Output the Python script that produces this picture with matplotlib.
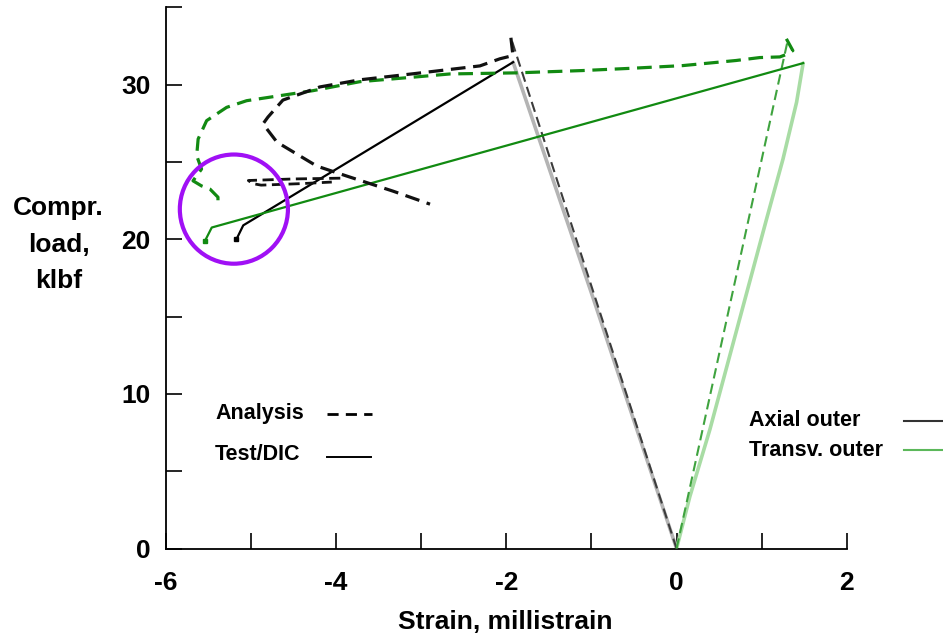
import matplotlib
matplotlib.use("Agg")
import matplotlib.pyplot as plt
from matplotlib.lines import Line2D
from matplotlib.patches import Ellipse

plt.rcParams['font.family'] = ['Liberation Sans', 'DejaVu Sans']

# ---- data (strain in millistrain, load in klbf) ----
# Axial outer, test (gauge) up to peak load
axial_test_x = [0.0, -0.98, -1.92]
axial_test_y = [0.0, 16.2, 31.45]
# Axial outer, test/DIC after peak
axial_dic_x = [-1.92, -5.09, -5.17]
axial_dic_y = [31.45, 20.90, 20.00]
# Axial outer, analysis: linear branch
axial_lin_x = [0.0, -1.946]
axial_lin_y = [0.0, 33.03]
# Axial outer, analysis: post-buckling branch
axial_post_x = [-1.946, -1.922, -2.075, -2.31, -3.097, -3.72, -4.19, -4.624,
                -4.80, -4.858, -4.694, -4.225, -3.87, -3.33, -2.896]
axial_post_y = [33.03, 31.88, 31.67, 31.21, 30.70, 30.31, 29.85, 29.00,
                27.90, 27.46, 26.28, 24.73, 24.08, 23.11, 22.27]
# Axial outer, analysis: unloading loop
axial_loop_x = [-3.95, -4.50, -5.03, -4.98, -4.88, -4.40, -4.05]
axial_loop_y = [23.95, 23.90, 23.80, 23.60, 23.50, 23.60, 23.70]

# Transverse outer, test (gauge) up to peak load
trans_test_x = [0.0, 0.156, 0.391, 1.057, 1.25, 1.41, 1.487]
trans_test_y = [0.0, 3.36, 7.69, 21.30, 25.18, 28.86, 31.39]
# Transverse outer, test/DIC after peak
trans_dic_x = [1.487, -5.46, -5.54]
trans_dic_y = [31.39, 20.76, 19.89]
# Transverse outer, analysis: linear branch
trans_lin_x = [0.0, 1.31]
trans_lin_y = [0.0, 32.96]
# Transverse outer, analysis: post-buckling branch
trans_post_x = [1.29, 1.366, 1.29, 1.213, 0.979, 0.70, 0.074, -0.513, -1.10,
                -1.879, -2.66, -3.097, -3.72, -4.27, -5.05, -5.285, -5.52,
                -5.62, -5.637, -5.58, -5.68, -5.58, -5.48, -5.387, -5.387]
trans_post_y = [32.96, 32.20, 31.95, 31.79, 31.75, 31.56, 31.23, 31.06, 30.91,
                30.76, 30.69, 30.48, 30.19, 29.61, 28.96, 28.53, 27.67,
                26.48, 25.40, 24.54, 23.78, 23.45, 23.24, 22.72, 22.27]

x_ticks = [-6, -4, -2, 0, 2]
x_minor = [-5, -3, -1, 1]
y_ticks = [0, 10, 20, 30]
y_minor = [5, 15, 25, 35]

# highlighted region (data coords)
circle_center = (-5.2, 21.95)

fig = plt.figure(figsize=(9.43, 6.39), dpi=100)
ax = fig.add_axes([0.1758, 0.1415, 0.7222, 0.8471])

dash_thick = (4.6, 2.4)
dash_thin = (5.0, 2.6)

ax.plot(axial_test_x, axial_test_y, color='#b4b4b4', lw=2.6, solid_capstyle='round', zorder=2)
ax.plot(trans_test_x, trans_test_y, color='#a8dca4', lw=2.6, solid_capstyle='round', zorder=2)
ax.plot(axial_lin_x, axial_lin_y, color='#3c3c3c', lw=1.5, dashes=dash_thin, zorder=3)
ax.plot(trans_lin_x, trans_lin_y, color='#3fa33f', lw=1.5, dashes=dash_thin, zorder=3)

ax.plot(axial_dic_x, axial_dic_y, color='black', lw=1.6, zorder=4)
ax.plot(axial_dic_x[-1:], axial_dic_y[-1:], marker='s', ms=3.5, color='black', zorder=4)
ax.plot(trans_dic_x, trans_dic_y, color='#118a11', lw=1.6, zorder=4)
ax.plot(trans_dic_x[-1:], trans_dic_y[-1:], marker='s', ms=3.5, color='#118a11', zorder=4)

ax.plot(trans_post_x, trans_post_y, color='#128a12', lw=2.3, dashes=dash_thick, zorder=5)
ax.plot(axial_post_x, axial_post_y, color='#111111', lw=2.3, dashes=dash_thick, zorder=6)
ax.plot(axial_loop_x, axial_loop_y, color='#111111', lw=2.0, dashes=(4.0, 2.0), zorder=6)

ax.add_patch(Ellipse(circle_center, width=1.27, height=7.06, fill=False,
                     edgecolor='#a010f5', lw=3.0, zorder=7))

ax.set_xlim(-6, 2)
ax.set_ylim(0, 35)
for s in ('top', 'right'):
    ax.spines[s].set_visible(False)
for s in ('left', 'bottom'):
    ax.spines[s].set_linewidth(1.3)
ax.set_xticks(x_ticks)
ax.set_xticks(x_minor, minor=True)
ax.set_yticks(y_ticks)
ax.set_yticks(y_minor, minor=True)
ax.set_xticklabels([str(v) for v in x_ticks])
ax.tick_params(which='both', direction='in', length=11.5, width=1.2)
ax.tick_params(axis='x', which='major', pad=16, labelsize=19)
ax.tick_params(axis='y', which='major', pad=11, labelsize=19)
for lab in ax.get_xticklabels() + ax.get_yticklabels():
    lab.set_fontweight('bold')

fig.text(0.536, 0.027, 'Strain, millistrain', ha='center', va='center',
         fontsize=19, fontweight='bold')
fig.text(0.062, 0.617, 'Compr.\nload,\nklbf', ha='center', va='center',
         fontsize=19, fontweight='bold', linespacing=1.65, multialignment='center')

# line-style key
W, H = 943.0, 639.0
def fx(px):
    return px / W
def fy(py):
    return 1 - py / H

fig.text(fx(215), fy(413), 'Analysis', ha='left', va='center', fontsize=15.5, fontweight='bold')
fig.text(fx(215), fy(455), 'Test/DIC', ha='left', va='center', fontsize=15.5, fontweight='bold')
fig.add_artist(Line2D([fx(327), fx(372)], [fy(414), fy(414)], color='black', lw=2.0,
                      dashes=(4.0, 2.6)))
fig.add_artist(Line2D([fx(327), fx(371)], [fy(457), fy(457)], color='black', lw=1.4))

# gauge key
fig.text(fx(749), fy(420), 'Axial outer', ha='left', va='center', fontsize=15.5, fontweight='bold')
fig.text(fx(749), fy(450), 'Transv. outer', ha='left', va='center', fontsize=15.5, fontweight='bold')
fig.add_artist(Line2D([fx(904), fx(943)], [fy(421), fy(421)], color='#333333', lw=1.5))
fig.add_artist(Line2D([fx(904), fx(943)], [fy(450), fy(450)], color='#5cb85a', lw=1.5))

fig.savefig('out.png', dpi=100)
